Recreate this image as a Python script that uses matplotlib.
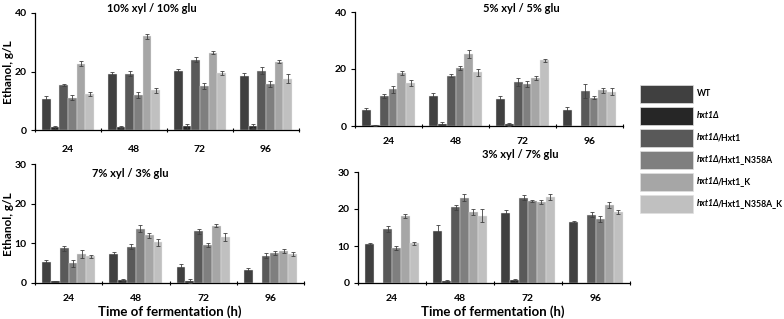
import matplotlib
matplotlib.use("Agg")
import matplotlib.pyplot as plt
import numpy as np
from matplotlib.patches import Rectangle

plt.rcParams['font.family'] = ['Lato', 'DejaVu Sans']
plt.rcParams['font.weight'] = 'bold'

times = ["24", "48", "72", "96"]
strains = ["WT", "hxt1Δ", "hxt1Δ/Hxt1", "hxt1Δ/Hxt1_N358A", "hxt1Δ/Hxt1_K", "hxt1Δ/Hxt1_N358A_K"]
colors = ["#404040", "#262626", "#595959", "#7f7f7f", "#a6a6a6", "#c0c0c0"]

# values per time point (rows) for each strain (columns)
xyl10_glu10 = [[10.7, 0.9, 15.4, 11.1, 22.7, 12.3],
               [19.3, 1.0, 19.2, 12.0, 32.0, 13.6],
               [20.3, 1.3, 24.1, 15.0, 26.4, 19.4],
               [18.5, 1.3, 20.3, 15.8, 23.4, 17.6]]
xyl10_glu10_err = [[1.0, 0.6, 0.4, 1.0, 0.8, 0.8],
                   [0.4, 0.4, 0.9, 1.0, 0.9, 0.9],
                   [0.4, 0.8, 0.8, 1.0, 0.5, 0.7],
                   [1.0, 0.6, 1.2, 1.0, 0.5, 1.4]]
xyl5_glu5 = [[5.6, 0.3, 10.5, 12.9, 18.6, 15.2],
             [10.5, 0.8, 17.7, 20.4, 25.4, 18.8],
             [9.5, 0.6, 15.4, 14.7, 16.9, 23.1],
             [5.6, 0.0, 12.3, 9.9, 12.5, 12.1]]
xyl5_glu5_err = [[0.8, 0.2, 0.6, 1.2, 0.6, 1.0],
                 [1.0, 0.6, 0.6, 0.8, 1.4, 1.1],
                 [1.2, 0.6, 1.3, 1.0, 0.7, 0.5],
                 [1.0, 0.0, 2.4, 0.6, 0.8, 1.1]]
xyl7_glu3 = [[5.3, 0.4, 8.7, 5.0, 7.3, 6.7],
             [7.4, 0.8, 9.2, 13.7, 12.0, 10.3],
             [4.1, 0.6, 13.0, 9.7, 14.4, 11.6],
             [3.3, 0.0, 6.9, 7.6, 8.0, 7.3]]
xyl7_glu3_err = [[0.6, 0.2, 0.7, 0.9, 0.9, 0.4],
                 [0.4, 0.2, 0.7, 0.9, 0.6, 0.9],
                 [0.8, 0.5, 0.6, 0.5, 0.4, 0.9],
                 [0.5, 0.0, 0.7, 0.5, 0.5, 0.6]]
xyl3_glu7 = [[10.5, 0.1, 14.7, 9.5, 18.1, 10.7],
             [14.0, 0.5, 20.5, 23.1, 19.3, 18.2],
             [18.9, 0.7, 23.1, 22.1, 21.9, 23.2],
             [16.5, 0.0, 18.5, 17.3, 21.2, 19.1]]
xyl3_glu7_err = [[0.3, 0.0, 0.8, 0.5, 0.5, 0.4],
                 [1.6, 0.2, 0.7, 0.9, 0.8, 1.8],
                 [0.8, 0.5, 0.8, 0.3, 0.6, 0.9],
                 [0.3, 0.0, 0.6, 0.7, 0.8, 0.5]]

titles = ["10% xyl / 10% glu", "5% xyl / 5% glu", "7% xyl / 3% glu", "3% xyl / 7% glu"]
ymax = [40, 40, 30, 30]
yticks = [[0, 20, 40], [0, 20, 40], [0, 10, 20, 30], [0, 10, 20, 30]]

W, H = 784, 319
fig = plt.figure(figsize=(W / 100, H / 100), dpi=100)

def fr(x0, y_top, x1, y_bot):
    return [x0 / W, 1 - y_bot / H, (x1 - x0) / W, (y_bot - y_top) / H]

rects = [fr(35, 13, 299, 130), fr(355, 12, 623, 126), fr(35, 164, 304, 283), fr(358, 172, 630, 283)]
xpads = [10.5, 8, 8, 8]
datasets = [(xyl10_glu10, xyl10_glu10_err), (xyl5_glu5, xyl5_glu5_err),
            (xyl7_glu3, xyl7_glu3_err), (xyl3_glu7, xyl3_glu7_err)]

group_w = 0.79
bw = group_w / len(strains)
x = np.arange(len(times))

axes = []
for i, (rect, (vals, errs)) in enumerate(zip(rects, datasets)):
    ax = fig.add_axes(rect)
    axes.append(ax)
    v = np.array(vals)
    e = np.array(errs)
    for j in range(len(strains)):
        pos = x - group_w / 2 + bw * (j + 0.5)
        ax.bar(pos, v[:, j], width=bw, color=colors[j], edgecolor='#e8e8e8', linewidth=0.3, zorder=2)
        mask = e[:, j] > 0
        ax.errorbar(pos[mask], v[mask, j], yerr=e[mask, j], fmt='none', ecolor='#404040',
                    elinewidth=0.6, capsize=1.5, capthick=0.6, zorder=3)
    ax.set_xlim(-0.5, len(times) - 0.5)
    ax.set_ylim(0, ymax[i])
    ax.set_yticks(yticks[i])
    ax.set_xticks(np.arange(len(times) + 1) - 0.5)
    ax.set_xticklabels([])
    ax.set_xticks(x, minor=True)
    ax.set_xticklabels(times, minor=True)
    ax.tick_params(axis='x', which='minor', length=0, pad=xpads[i], labelsize=7.5)
    ax.tick_params(axis='x', which='major', length=3, width=0.8, direction='inout')
    ax.tick_params(axis='y', length=3, width=0.8, labelsize=7.5, pad=3)
    for s in ['top', 'right']:
        ax.spines[s].set_visible(False)
    for s in ['left', 'bottom']:
        ax.spines[s].set_linewidth(0.9)
    for lab in ax.get_xticklabels(minor=True) + ax.get_yticklabels():
        lab.set_fontweight('bold')

# titles
fig.text(152 / W, 1 - 8 / H, titles[0], ha='center', va='center', fontsize=8, fontweight='bold')
fig.text(521 / W, 1 - 8 / H, titles[1], ha='center', va='center', fontsize=8, fontweight='bold')
fig.text(130 / W, 1 - 173 / H, titles[2], ha='center', va='center', fontsize=8, fontweight='bold')
fig.text(520 / W, 1 - 155 / H, titles[3], ha='center', va='center', fontsize=8, fontweight='bold')

# axis labels
fig.text(9 / W, 1 - 72 / H, "Ethanol, g/L", rotation=90, ha='center', va='center', fontsize=8.5, fontweight='bold')
fig.text(9 / W, 1 - 224 / H, "Ethanol, g/L", rotation=90, ha='center', va='center', fontsize=8.5, fontweight='bold')
fig.text(170 / W, 1 - 312 / H, "Time of fermentation (h)", ha='center', va='center', fontsize=9.5, fontweight='bold')
fig.text(493 / W, 1 - 312 / H, "Time of fermentation (h)", ha='center', va='center', fontsize=9.5, fontweight='bold')

# legend
lax = fig.add_axes([0, 0, 1, 1], facecolor='none')
lax.set_xlim(0, W)
lax.set_ylim(H, 0)
lax.axis('off')
box_tops = [85, 107, 129, 151, 173, 195]
for j, name in enumerate(strains):
    top = box_tops[j]
    lax.add_patch(Rectangle((640, top), 53, 18, facecolor=colors[j], edgecolor='#e0e0e0', linewidth=0.5))
    yc = top + 9
    if name.startswith("hxt1Δ"):
        t1 = lax.text(697, yc, "hxt1Δ", ha='left', va='center', fontsize=6.2, fontweight='bold', style='italic')
        rest = name[len("hxt1Δ"):]
        if rest:
            lax.annotate(rest, xy=(1, 0.5), xycoords=t1, xytext=(-1.2, 0), textcoords='offset points',
                         ha='left', va='center', fontsize=6.2, fontweight='bold')
    else:
        lax.text(697, yc, name, ha='left', va='center', fontsize=6.2, fontweight='bold')

fig.savefig("out.png", dpi=100)
